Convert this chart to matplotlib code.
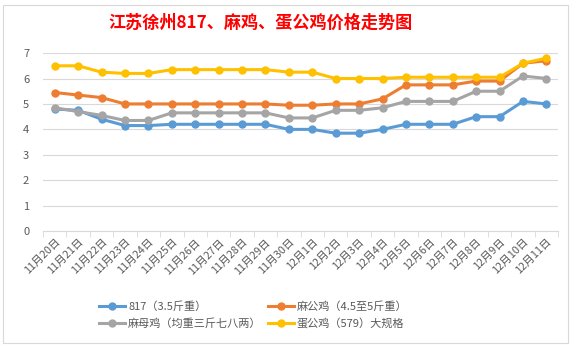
import matplotlib.pyplot as plt
from matplotlib.patches import Rectangle

plt.rcParams['font.family'] = ['Noto Sans CJK SC', 'DejaVu Sans']

dates = ["11月20日", "11月21日", "11月22日", "11月23日", "11月24日", "11月25日",
         "11月26日", "11月27日", "11月28日", "11月29日", "11月30日", "12月1日",
         "12月2日", "12月3日", "12月4日", "12月5日", "12月6日", "12月7日",
         "12月8日", "12月9日", "12月10日", "12月11日"]

s817 = [4.8, 4.75, 4.4, 4.15, 4.15, 4.2, 4.2, 4.2, 4.2, 4.2, 4.0,
        4.0, 3.85, 3.85, 4.0, 4.2, 4.2, 4.2, 4.5, 4.5, 5.1, 5.0]
ma_gong = [5.45, 5.35, 5.25, 5.0, 5.0, 5.0, 5.0, 5.0, 5.0, 5.0, 4.95,
           4.95, 5.0, 5.0, 5.2, 5.75, 5.75, 5.75, 5.9, 5.9, 6.6, 6.7]
ma_mu = [4.85, 4.7, 4.55, 4.35, 4.35, 4.65, 4.65, 4.65, 4.65, 4.65, 4.45,
         4.45, 4.75, 4.75, 4.85, 5.1, 5.1, 5.1, 5.5, 5.5, 6.1, 6.0]
dan_gong = [6.5, 6.5, 6.25, 6.2, 6.2, 6.35, 6.35, 6.35, 6.35, 6.35, 6.25,
            6.25, 6.0, 6.0, 6.0, 6.05, 6.05, 6.05, 6.05, 6.05, 6.6, 6.8]

series = [
    ("817（3.5斤重）", s817, "#5B9BD5"),
    ("麻公鸡（4.5至5斤重）", ma_gong, "#ED7D31"),
    ("麻母鸡（均重三斤七八两）", ma_mu, "#A5A5A5"),
    ("蛋公鸡（579）大规格", dan_gong, "#FFC000"),
]

fig = plt.figure(figsize=(5.76, 3.47), dpi=100)
fig.patches.append(Rectangle((0.006, 0.012), 0.98, 0.975, transform=fig.transFigure,
                             fill=False, edgecolor="#D9D9D9", linewidth=0.8))

ax = fig.add_axes([0.0747, 0.334, 0.8943, 0.513])
x = list(range(len(dates)))
lines = []
for label, vals, color in series:
    ln, = ax.plot(x, vals, color=color, linewidth=2.2, marker="o", markersize=5,
                  label=label, solid_joinstyle="round")
    lines.append(ln)

ax.set_ylim(0, 7)
ax.set_xlim(-0.5, len(dates) - 0.5)
ax.set_yticks(range(0, 8))
ax.yaxis.grid(True, color="#D9D9D9", linewidth=0.8)
ax.set_axisbelow(True)
for side in ["top", "right", "left"]:
    ax.spines[side].set_visible(False)
ax.spines["bottom"].set_color("#D9D9D9")
ax.tick_params(axis="y", length=0, labelsize=8, labelcolor="#595959", pad=10)

ax.set_xticks(x)
ax.set_xticklabels(dates, rotation=45, ha="right", rotation_mode="anchor",
                   fontsize=7.8, color="#595959")
ax.tick_params(axis="x", length=0, pad=4)
ax.set_xticks([i - 0.5 for i in range(len(dates) + 1)], minor=True)
ax.tick_params(axis="x", which="minor", length=4, color="#D9D9D9")

fig.text(0.453, 0.935, "江苏徐州817、麻鸡、蛋公鸡价格走势图", color="red",
         fontsize=12.3, fontweight="bold", ha="center", va="center")

# legend is filled row by row in the reference
order = [0, 2, 1, 3]
fig.legend([lines[i] for i in order], [series[i][0] for i in order],
           loc="center", bbox_to_anchor=(0.44, 0.092), ncol=2, frameon=False,
           fontsize=8, handlelength=2.3, columnspacing=0.6, handletextpad=0.3,
           labelspacing=0.5, labelcolor="#595959")

fig.savefig("out.png", dpi=100)
